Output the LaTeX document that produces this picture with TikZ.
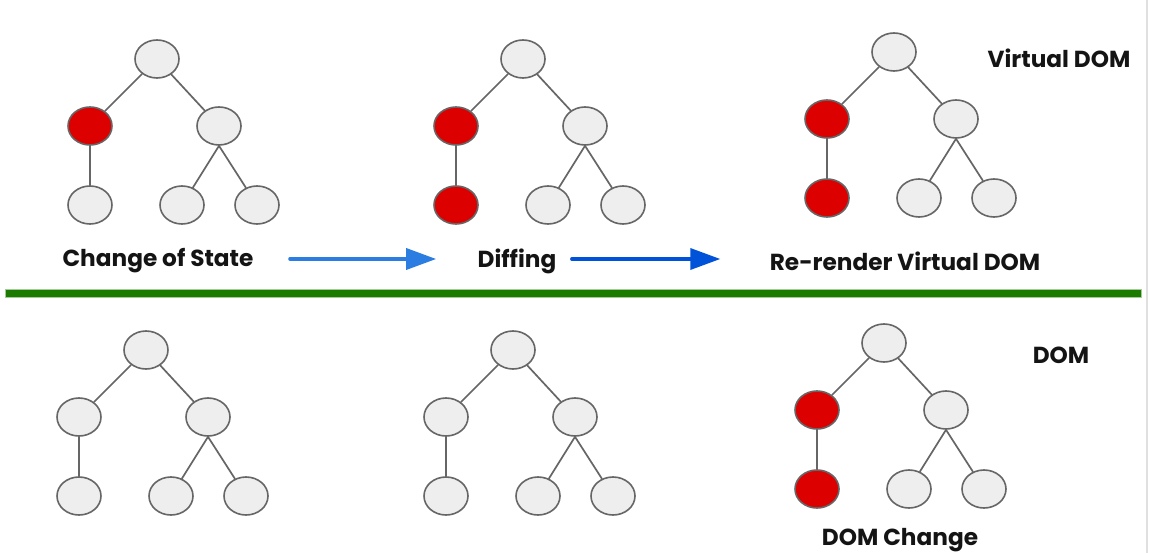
\documentclass[tikz,border=0pt]{standalone}
\usepackage{fontspec}
\setmainfont{Poppins}
\usetikzlibrary{shapes.geometric,arrows.meta}

\definecolor{domred}{HTML}{DD0000}
\definecolor{domfill}{HTML}{EEEEEE}
\definecolor{domline}{HTML}{666666}
\definecolor{bargreen}{HTML}{1B7A00}
\definecolor{arrowlight}{HTML}{2B7DE1}
\definecolor{arrowdark}{HTML}{0052D9}

\tikzset{
  dnode/.style={ellipse,draw=domline,fill=domfill,line width=1.6pt,minimum width=44pt,minimum height=38pt,inner sep=0pt},
  edge/.style={draw=domline,line width=1.7pt},
  lbl/.style={font=\bfseries\fontsize{23.2}{26}\selectfont,text=black!92},
  flow/.style={line width=3.5pt,-{Triangle[length=30pt,width=21pt]}}
}

% #1 name, (#2,#3) root, #4 left fill, #5 left-left fill
\newcommand{\domtree}[5]{%
  \node[dnode] (#1) at (#2,#3) {};
  \node[dnode,fill=#4] (#1l) at (#2-67,#3+67) {};
  \node[dnode] (#1r) at (#2+62,#3+67) {};
  \node[dnode,fill=#5] (#1ll) at (#2-67,#3+146) {};
  \node[dnode] (#1rl) at (#2+25,#3+146) {};
  \node[dnode] (#1rr) at (#2+100,#3+146) {};
  \draw[edge] (#1) -- (#1l);
  \draw[edge] (#1) -- (#1r);
  \draw[edge] (#1l) -- (#1ll);
  \draw[edge] (#1r.south) -- (#1rl);
  \draw[edge] (#1r.south) -- (#1rr);
}

\begin{document}
\begin{tikzpicture}[line cap=round,line join=round,x=1pt,y=-1pt]
	\useasboundingbox[fill=white] (0,0) rectangle (1150,553);
	\draw[black!12,line width=1.5pt] (1147,0) -- (1147,553);
	% virtual DOM
	\domtree{va}{157}{59}{domred}{domfill}
	\domtree{vb}{523}{59}{domred}{domred}
	\domtree{vc}{894}{52}{domred}{domred}
	\node[lbl] (vdom) at (1059,58) {Virtual DOM};
	\node[lbl] (state) at (158,261) {Change of State};
	\node[lbl] (diff) at (517,261) {Diffing};
	\node[lbl] (rerender) at (905,261) {Re-render Virtual DOM};
	\draw[flow,arrowlight] ([xshift=33pt,yshift=2pt]state.east) -- ([xshift=-38pt,yshift=2pt]diff.west);
	\draw[flow,arrowdark] ([xshift=12pt,yshift=2pt]diff.east) -- ([xshift=-46pt,yshift=2pt]rerender.west);
	% separator
	\fill[bargreen,draw=bargreen!40,line width=0.5pt] (5,289) rectangle (1141,297);
	% real DOM
	\domtree{da}{146}{350}{domfill}{domfill}
	\domtree{db}{513}{350}{domfill}{domfill}
	\domtree{dc}{884}{343}{domred}{domred}
	\node[lbl] (dom) at (1061,355) {DOM};
	\node[lbl] (domchange) at (900,540) {DOM Change};
\end{tikzpicture}
\end{document}
